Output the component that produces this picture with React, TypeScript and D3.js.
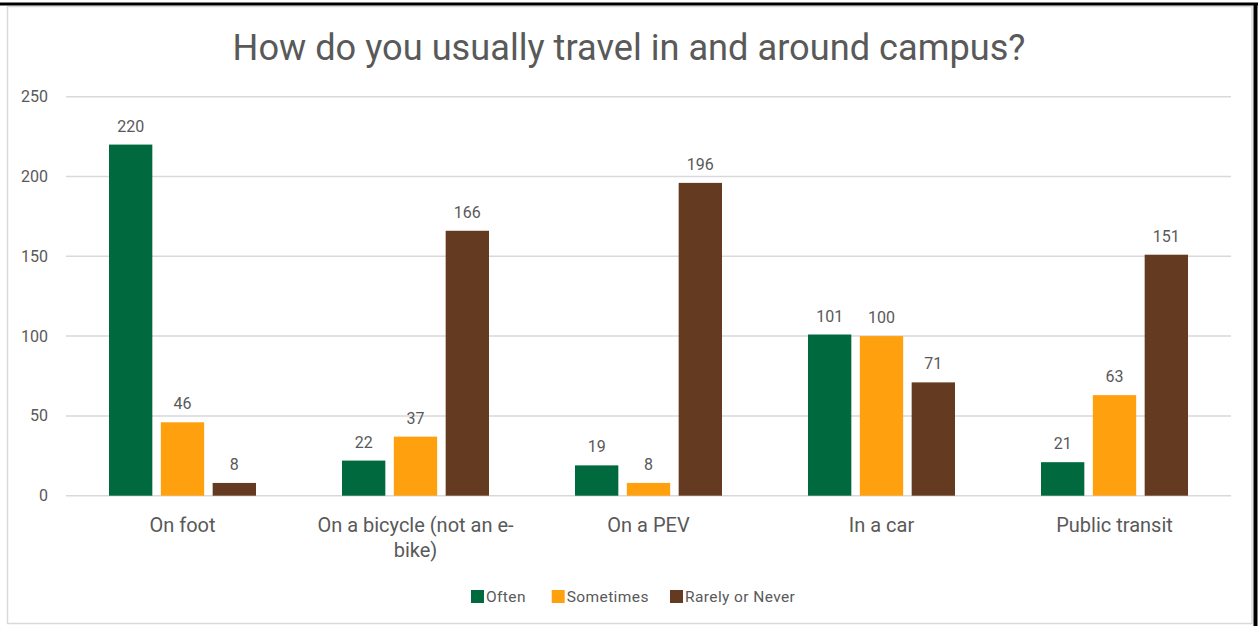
import React from "react";
import * as d3 from "d3";

const categories = ["On foot", "On a bicycle (not an e-bike)", "On a PEV", "In a car", "Public transit"];
const categoryLines = [["On foot"], ["On a bicycle (not an e-", "bike)"], ["On a PEV"], ["In a car"], ["Public transit"]];
const seriesNames = ["Often", "Sometimes", "Rarely or Never"];
const often = [220, 22, 19, 101, 21];
const sometimes = [46, 37, 8, 100, 63];
const rarely = [8, 166, 196, 71, 151];
const yTicks = [0, 50, 100, 150, 200, 250];
const colors = ["#006A3E", "#FFA00F", "#643B20"];

const W = 1260;
const H = 626;
const plotLeft = 66;
const plotRight = 1231;
const plotTop = 96.7;
const plotBottom = 495.7;
const font = "Roboto, 'Liberation Sans', Arial, sans-serif";
const textColor = "#595959";

export default function App() {
  const series = [often, sometimes, rarely];
  const x0 = d3.scaleBand<string>().domain(categories).range([plotLeft, plotRight]).padding(0);
  const bw = x0.bandwidth();
  const groupW = 147;
  const x1 = d3
    .scaleBand<string>()
    .domain(seriesNames)
    .range([(bw - groupW) / 2, (bw + groupW) / 2])
    .paddingInner(0.164)
    .paddingOuter(0);
  const y = d3.scaleLinear().domain([0, 250]).range([plotBottom, plotTop]);

  const legendItems = [
    { name: "Often", x: 471 },
    { name: "Sometimes", x: 551.7 },
    { name: "Rarely or Never", x: 670 },
  ];

  return (
    <svg width={W} height={H} style={{ position: "absolute", left: 0, top: 0 }}>
      <rect x={0} y={0} width={W} height={H} fill="#ffffff" />
      <rect x={7.5} y={6.5} width={1244.5} height={617} fill="#ffffff" stroke="#d9d9d9" strokeWidth={1.5} />
      <line x1={0} x2={1258} y1={4} y2={4} stroke="#000" strokeWidth={3} />
      <line x1={1255.5} x2={1255.5} y1={3} y2={626} stroke="#000" strokeWidth={4} />

      <text x={629} y={60} textAnchor="middle" fontFamily={font} fontSize={36.2} fill={textColor}>
        How do you usually travel in and around campus?
      </text>

      {yTicks.map((t) => (
        <g key={t}>
          <line x1={plotLeft} x2={plotRight} y1={y(t)} y2={y(t)} stroke="#d9d9d9" strokeWidth={1.5} />
          <text
            x={48}
            y={y(t)}
            textAnchor="end"
            dominantBaseline="central"
            fontFamily={font}
            fontSize={16}
            fill={textColor}
          >
            {t}
          </text>
        </g>
      ))}

      {categories.map((c, ci) => (
        <g key={c} transform={`translate(${x0(c)},0)`}>
          {seriesNames.map((s, si) => {
            const v = series[si][ci];
            const bx = x1(s)!;
            return (
              <g key={s}>
                <rect
                  x={bx}
                  y={y(v)}
                  width={x1.bandwidth()}
                  height={y(0) - y(v)}
                  fill={colors[si]}
                />
                <text
                  x={bx + x1.bandwidth() / 2}
                  y={y(v) - 13}
                  textAnchor="middle"
                  fontFamily={font}
                  fontSize={16}
                  fill={textColor}
                >
                  {v}
                </text>
              </g>
            );
          })}
          {categoryLines[ci].map((line, li) => (
            <text
              key={li}
              x={bw / 2}
              y={531.7 + li * 25}
              textAnchor="middle"
              fontFamily={font}
              fontSize={20}
              fill={textColor}
            >
              {line}
            </text>
          ))}
        </g>
      ))}

      {legendItems.map((item, i) => (
        <g key={item.name}>
          <rect x={item.x} y={590} width={13} height={13} fill={colors[i]} />
          <text
            x={item.x + 15}
            y={602}
            fontFamily={font}
            fontSize={15.5}
            letterSpacing={0.4}
            fill={textColor}
          >
            {item.name}
          </text>
        </g>
      ))}
    </svg>
  );
}
